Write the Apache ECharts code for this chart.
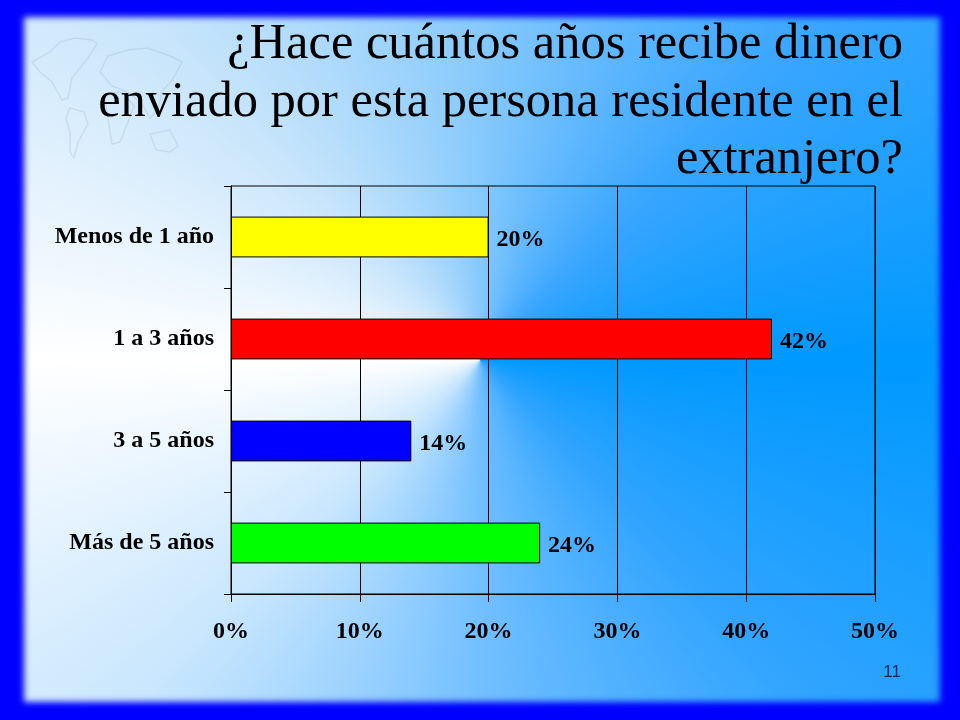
<!DOCTYPE html>
<html>
<head>
<meta charset="utf-8">
<script src="https://cdn.jsdelivr.net/npm/echarts@6/dist/echarts.min.js"></script>
<style>
  html, body { margin: 0; padding: 0; }
  /* slide background: conic fill around the centre plus the blue frame */
  #chart {
    width: 960px;
    height: 720px;
    background: conic-gradient(from 0deg at 50% 50%,
      #86c9fc 0deg, #3aa6ff 45deg, #0099ff 90deg, #30a4ff 135deg,
      #72bfff 180deg, #c8e6fd 225deg, #ffffff 270deg, #c8e5fb 315deg, #86c9fc 360deg);
    box-shadow: inset 24px 0 6px #0000ff, inset -20px 0 6px #0000ff,
      inset 0 17px 6px #0000ff, inset 0 -18px 6px #0000ff;
  }
</style>
</head>
<body>
<div id="chart"></div>
<script>
const titleLines = ["¿Hace cuántos años recibe dinero", "enviado por esta persona residente en el", "extranjero?"];
const categories = ["Menos de 1 año", "1 a 3 años", "3 a 5 años", "Más de 5 años"];
const values = [20, 42, 14, 24];
const barColors = ["#ffff00", "#ff0000", "#0000ff", "#00ff00"];
const slideNumber = "11";

// faint world map behind the title, rough outlines only
const mapShapes = [
  [[32, 62], [50, 52], [60, 42], [75, 38], [92, 40], [97, 44], [88, 58], [80, 68], [72, 78], [68, 98], [62, 100], [52, 82], [40, 72]],
  [[70, 108], [84, 112], [88, 124], [78, 142], [74, 158], [70, 152], [70, 132], [66, 118]],
  [[100, 72], [108, 56], [128, 50], [148, 48], [170, 56], [182, 62], [172, 80], [162, 92], [158, 110], [150, 118], [142, 104], [128, 92], [112, 86]],
  [[104, 94], [122, 92], [134, 106], [128, 122], [120, 142], [112, 144], [108, 118]],
  [[150, 134], [170, 130], [178, 146], [170, 152], [156, 150]]
];

const serif = "'Liberation Serif', 'Times New Roman', serif";
const chart = echarts.init(document.getElementById("chart"));

chart.setOption({
  backgroundColor: "transparent",
  animation: false,
  textStyle: { fontFamily: serif },
  graphic: [
    ...mapShapes.map((pts) => ({
      type: "polygon",
      z: -1,
      shape: { points: pts },
      style: { fill: "none", stroke: "rgba(150,165,185,0.22)", lineWidth: 1.5 }
    })),
    // each title line is its own text so the block stays right aligned
    ...titleLines.map((line, i) => ({
      type: "text",
      x: 903,
      y: 45 + i * 57.5,
      style: {
        text: line,
        align: "right",
        verticalAlign: "middle",
        fontFamily: serif,
        fontSize: 50.5,
        fill: "#000000"
      }
    })),
    {
      type: "text",
      x: 901,
      y: 672,
      style: {
        text: slideNumber,
        align: "right",
        verticalAlign: "middle",
        fontFamily: "'Liberation Sans', Arial, sans-serif",
        fontSize: 17,
        fill: "#0a2a5c"
      }
    }
  ],
  grid: {
    left: 231,
    top: 186,
    width: 644,
    height: 408,
    show: true,
    borderColor: "#000000",
    borderWidth: 1,
    containLabel: false
  },
  xAxis: {
    type: "value",
    min: 0,
    max: 50,
    interval: 10,
    axisLine: { show: true, lineStyle: { color: "#000000", width: 1 } },
    axisTick: { show: true, length: 8, lineStyle: { color: "#000000", width: 1 } },
    splitLine: { show: true, lineStyle: { color: "#000000", width: 1 } },
    axisLabel: {
      formatter: "{value}%",
      margin: 26,
      color: "#000000",
      fontFamily: serif,
      fontWeight: "bold",
      fontSize: 24
    }
  },
  yAxis: {
    type: "category",
    inverse: true,
    data: categories,
    axisLine: { show: true, lineStyle: { color: "#000000", width: 1 } },
    axisTick: { show: true, length: 7, alignWithLabel: false, lineStyle: { color: "#000000", width: 1 } },
    axisLabel: {
      margin: 17,
      padding: [4, 0, 0, 0],
      color: "#000000",
      fontFamily: serif,
      fontWeight: "bold",
      fontSize: 24
    }
  },
  series: [
    {
      type: "bar",
      barWidth: "40%",
      data: values.map((v, i) => ({
        value: v,
        itemStyle: { color: barColors[i], borderColor: "#000000", borderWidth: 1 }
      })),
      label: {
        show: true,
        position: "right",
        distance: 7,
        offset: [1, 3],
        formatter: "{c}%",
        color: "#000000",
        fontFamily: serif,
        fontWeight: "bold",
        fontSize: 24
      }
    }
  ]
});
</script>
</body>
</html>
